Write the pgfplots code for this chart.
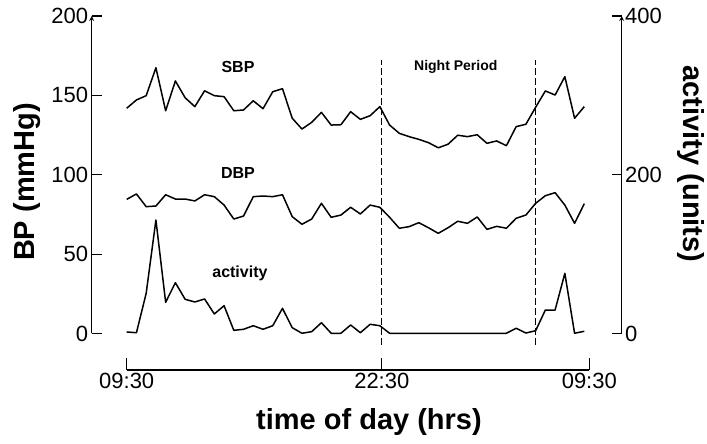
\documentclass[border=0pt]{standalone}
\usepackage{fontspec}
\setmainfont{Liberation Sans}
\usepackage{pgfplots}
\pgfplotsset{compat=1.18}
\usepackage{pgfplotstable}

\pgfplotstableread{
i sbp dbp act
0 141.9 84.5 1.9
1 147.1 87.9 1.0
2 149.8 79.9 50.6
3 167.4 80.3 143.0
4 140.3 87.4 39.3
5 159.1 84.7 64.0
6 148.5 84.7 43.1
7 142.9 83.5 39.7
8 152.9 87.4 43.5
9 149.8 86.2 24.6
10 149.2 80.9 35.0
11 140.3 72.1 4.0
12 140.8 74.0 5.3
13 146.6 86.2 9.8
14 141.6 86.6 5.3
15 152.3 86.2 9.8
16 154.2 87.4 31.7
17 135.6 73.6 7.3
18 128.8 68.8 0.3
19 133.0 72.1 2.3
20 139.3 82.0 13.6
21 131.3 73.2 0.3
22 131.5 74.6 0.3
23 139.7 79.5 10.7
24 134.9 75.3 1.0
25 137.2 80.9 11.6
26 142.9 79.5 9.8
27 131.3 73.2 0.3
28 126.1 66.3 0.3
29 124.0 67.3 0.3
30 122.3 69.8 0.3
31 120.2 66.6 0.3
32 117.0 63.1 0.3
33 119.2 66.6 0.3
34 124.9 70.7 0.3
35 124.0 69.4 0.3
36 125.2 73.4 0.3
37 119.8 65.6 0.3
38 121.3 67.5 0.3
39 118.3 66.3 0.3
40 130.3 72.6 6.6
41 131.8 74.6 0.6
42 142.5 82.0 3.5
43 152.8 86.8 29.6
44 150.2 88.7 29.6
45 161.8 80.9 75.8
46 135.6 69.4 0.3
47 142.9 81.8 2.8
}\data

\pgfplotsset{
  common/.style={
    scale only axis, width=530pt, height=317.5pt,
    xmin=-3.595, xmax=50.84, clip=false,
    axis x line=none,
    tick align=inside, major tick length=10pt,
    every tick/.style={line width=1.2pt, black},
    axis line style={-, line width=1.2pt},
    tick label style={font=\fontsize{22}{24}\selectfont},
    /pgf/number format/assume math mode=true,
  }
}

\begin{document}
\begin{tikzpicture}[x=1pt,y=1pt]
\path[use as bounding box] (0,0) rectangle (707,444);

\begin{axis}[common, at={(91.7pt,110.5pt)}, anchor=south west,
  ymin=0, ymax=200, axis y line=left, tick align=inside,
  ytick={0,50,100,150,200}]
\addplot[black, line width=1.5pt, line join=round] table[x=i,y=sbp]{\data};
\addplot[black, line width=1.5pt, line join=round] table[x=i,y=dbp]{\data};
\addplot[black, line width=0.8pt, dash pattern=on 7pt off 3pt] coordinates {(26.2,-7.2) (26.2,172.3)};
\addplot[black, line width=0.8pt, dash pattern=on 7pt off 3pt] coordinates {(42.0,-7.2) (42.0,172.3)};
\node[font=\bfseries\fontsize{16}{18}\selectfont] at (axis cs:11.43,168) {SBP};
\node[font=\bfseries\fontsize{16}{18}\selectfont] at (axis cs:11.43,101.1) {DBP};
\node[font=\bfseries\fontsize{16}{18}\selectfont] at (axis cs:11.63,38.1) {activity};
\node[font=\bfseries\fontsize{14}{16}\selectfont] at (axis cs:33.8,168) {Night Period};
\end{axis}

\begin{axis}[common, at={(91.7pt,110.5pt)}, anchor=south west,
  ymin=0, ymax=400, axis y line=right, tick align=inside,
  yticklabel pos=right, ytick={0,200,400}]
\addplot[black, line width=1.5pt, line join=round] table[x=i,y=act]{\data};
\end{axis}

\begin{axis}[scale only axis, width=462.6pt, height=10pt,
  at={(126.7pt,74pt)}, anchor=south west,
  xmin=0, xmax=47.51, ymin=0, ymax=1,
  axis y line=none, axis x line=bottom, tick align=inside,
  axis line style={-, line width=1.2pt},
  every tick/.style={line width=1.2pt, black},
  major tick length=12pt,
  xtick={0,26.2,47.51}, xticklabels={09:30,22:30,09:30},
  tick label style={font=\fontsize{22}{24}\selectfont}]
\end{axis}

\node[rotate=90, font=\bfseries\fontsize{29}{30}\selectfont] at (27,262) {BP (mmHg)};
\node[rotate=-90, font=\bfseries\fontsize{29}{30}\selectfont] at (691,280) {activity (units)};
\node[font=\bfseries\fontsize{29}{30}\selectfont] at (369,22) {time of day (hrs)};
\end{tikzpicture}
\end{document}
